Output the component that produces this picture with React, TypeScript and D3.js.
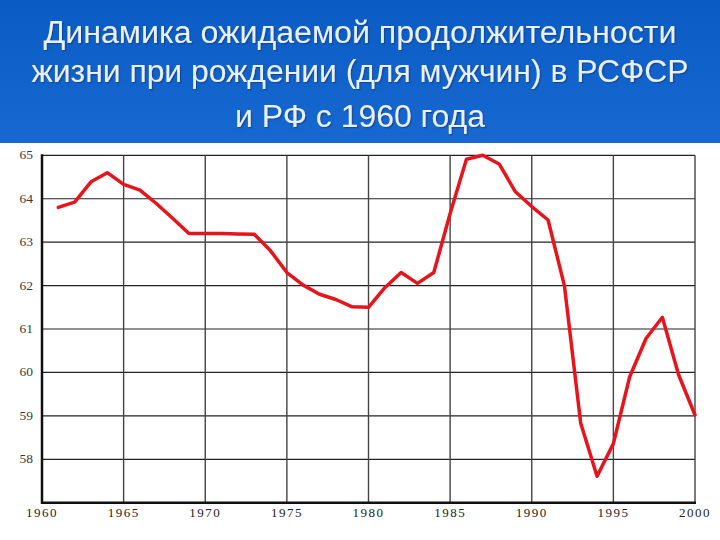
import React from "react";
import * as d3 from "d3";

const titleLines = [
  "Динамика ожидаемой продолжительности",
  "жизни при рождении (для мужчин) в РСФСР",
  "и РФ с 1960 года",
];

const years = [
  1961, 1962, 1963, 1964, 1965, 1966, 1967, 1968, 1969, 1970,
  1971, 1972, 1973, 1974, 1975, 1976, 1977, 1978, 1979, 1980,
  1981, 1982, 1983, 1984, 1985, 1986, 1987, 1988, 1989, 1990,
  1991, 1992, 1993, 1994, 1995, 1996, 1997, 1998, 1999, 2000,
];

const lifeExpectancy = [
  63.8, 63.92, 64.39, 64.6, 64.33, 64.2, 63.89, 63.55, 63.2, 63.2,
  63.2, 63.19, 63.18, 62.8, 62.3, 62.01, 61.8, 61.68, 61.51, 61.5,
  61.95, 62.3, 62.05, 62.3, 63.66, 64.91, 65.0, 64.8, 64.16, 63.82,
  63.51, 62.0, 58.83, 57.61, 58.36, 59.9, 60.78, 61.27, 59.94, 59.02,
];

const xTicks = [1960, 1965, 1970, 1975, 1980, 1985, 1990, 1995, 2000];
const yTicks = [58, 59, 60, 61, 62, 63, 64, 65];

export default function App() {
  const W = 720;
  const H = 540;
  const left = 42;
  const right = 695;
  const top = 155.3;
  const bottom = 502.7;

  const x = d3.scaleLinear().domain([1960, 2000]).range([left, right]);
  const y = d3.scaleLinear().domain([57, 65]).range([bottom, top]);

  const data = years.map((yr, i) => ({ yr, v: lifeExpectancy[i] }));
  const line = d3
    .line<{ yr: number; v: number }>()
    .x((d) => x(d.yr))
    .y((d) => y(d.v))
    .curve(d3.curveLinear);

  const titleWidths = [633, 657, 250];
  const titleBaselines = [43, 82, 127];

  return (
    <svg
      width={W}
      height={H}
      style={{ position: "absolute", left: 0, top: 0, display: "block" }}
    >
      <defs>
        <linearGradient id="bg" x1="0" y1="0" x2="0" y2="1">
          <stop offset="0%" stopColor="#0a5bc4" />
          <stop offset="100%" stopColor="#1768d0" />
        </linearGradient>
        <filter id="shadow" x="-5%" y="-20%" width="110%" height="140%">
          <feDropShadow dx="1.2" dy="1.2" stdDeviation="0.6" floodColor="#073a80" floodOpacity="0.7" />
        </filter>
      </defs>
      <rect x={0} y={0} width={W} height={H} fill="#ffffff" />
      <rect x={0} y={0} width={W} height={143} fill="url(#bg)" />
      {titleLines.map((t, i) => (
        <text
          key={i}
          x={W / 2}
          y={titleBaselines[i]}
          textAnchor="middle"
          fontFamily="'Liberation Sans Narrow', 'Arial Narrow', 'Liberation Sans', Arial, sans-serif"
          fontSize={31}
          fill="#e8f0fb"
          textLength={titleWidths[i]}
          lengthAdjust="spacingAndGlyphs"
          filter="url(#shadow)"
        >
          {t}
        </text>
      ))}

      {/* horizontal gridlines */}
      {yTicks.map((t) => (
        <line
          key={"h" + t}
          x1={left}
          x2={right}
          y1={y(t)}
          y2={y(t)}
          stroke="#222"
          strokeWidth={1.2}
        />
      ))}
      {/* vertical gridlines */}
      {xTicks.map((t) => (
        <line
          key={"v" + t}
          x1={x(t)}
          x2={x(t)}
          y1={top}
          y2={bottom}
          stroke="#444"
          strokeWidth={1.4}
        />
      ))}
      {/* axes */}
      <line x1={left} x2={left} y1={top - 1} y2={bottom + 1} stroke="#111" strokeWidth={2.5} />
      <line x1={left - 1} x2={right + 1} y1={bottom} y2={bottom} stroke="#111" strokeWidth={2.5} />

      {/* y labels */}
      {yTicks.map((t) => (
        <text
          key={"yl" + t}
          x={33}
          y={y(t)}
          dy="0.3em"
          textAnchor="end"
          fontFamily="'Liberation Serif', 'Times New Roman', serif"
          fontSize={13.5}
          fill="#3a3a3a"
        >
          {t}
        </text>
      ))}
      {/* x labels */}
      {xTicks.map((t) => (
        <text
          key={"xl" + t}
          x={x(t)}
          y={517}
          textAnchor="middle"
          fontFamily="'Liberation Serif', 'Times New Roman', serif"
          fontSize={13}
          letterSpacing={1.5}
          fill="#222"
        >
          {t}
        </text>
      ))}

      <path
        d={line(data) || ""}
        fill="none"
        stroke="#e8141c"
        strokeWidth={3.5}
        strokeLinejoin="round"
        strokeLinecap="round"
      />
    </svg>
  );
}
